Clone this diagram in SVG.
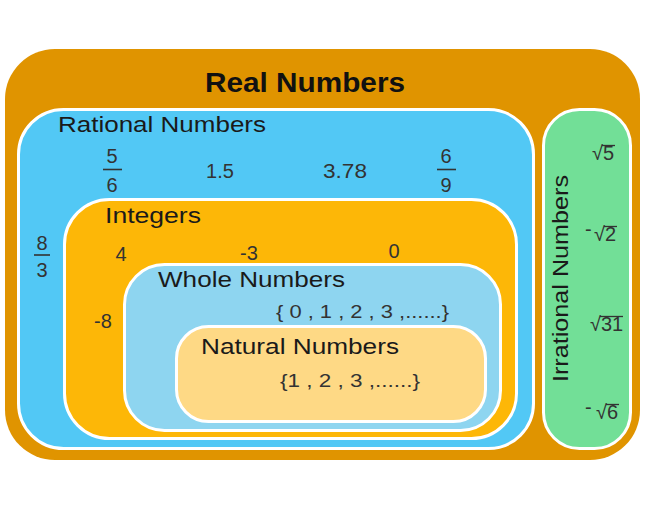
<svg xmlns="http://www.w3.org/2000/svg" width="647" height="524" viewBox="0 0 647 524">
<style>
.box{stroke:#fff;stroke-width:3}
.lbl{font-family:"Liberation Sans",Arial,sans-serif;font-size:22px;fill:#1a1a1a}
.num{font-family:"Liberation Sans",Arial,sans-serif;font-size:20px;fill:#333}
.set{font-family:"Liberation Sans",Arial,sans-serif;font-size:18px;fill:#333}
.bar{stroke:#333;stroke-width:1.6}
.vin{stroke:#333;stroke-width:1.3}
</style>
<rect width="647" height="524" fill="#fff"/>
<g id="real">
<rect x="5" y="49" width="635" height="411" rx="50" fill="#E09400"/>
<text x="305" y="92" text-anchor="middle" font-family="Liberation Sans,Arial,sans-serif" font-weight="bold" font-size="28" fill="#111" textLength="200" lengthAdjust="spacingAndGlyphs">Real Numbers</text>
</g>
<g id="rational">
<rect class="box" x="18.5" y="109.5" width="515" height="339" rx="45" fill="#52C8F5"/>
<text class="lbl" x="58" y="132" textLength="208" lengthAdjust="spacingAndGlyphs">Rational Numbers</text>
<text class="num" x="112" y="163" text-anchor="middle">5</text>
<line class="bar" x1="103" y1="169.5" x2="122" y2="169.5"/>
<text class="num" x="112" y="192" text-anchor="middle">6</text>
<text class="num" x="220" y="178" text-anchor="middle">1.5</text>
<text class="num" x="345" y="178" text-anchor="middle" textLength="44" lengthAdjust="spacingAndGlyphs">3.78</text>
<text class="num" x="446" y="163" text-anchor="middle">6</text>
<line class="bar" x1="437" y1="169.5" x2="456" y2="169.5"/>
<text class="num" x="446" y="192" text-anchor="middle">9</text>
<text class="num" x="42" y="250" text-anchor="middle">8</text>
<line class="bar" x1="34" y1="255" x2="50" y2="255"/>
<text class="num" x="42" y="277" text-anchor="middle">3</text>
</g>
<g id="integers">
<rect class="box" x="64.5" y="199.5" width="452" height="239" rx="45" fill="#FDB707"/>
<text class="lbl" x="105" y="223" textLength="96" lengthAdjust="spacingAndGlyphs">Integers</text>
<text class="num" x="121" y="261" text-anchor="middle">4</text>
<text class="num" x="249" y="260" text-anchor="middle">-3</text>
<text class="num" x="394" y="258" text-anchor="middle">0</text>
<text class="num" x="103" y="328" text-anchor="middle">-8</text>
</g>
<g id="whole">
<rect class="box" x="124.5" y="264.5" width="376" height="166" rx="40" fill="#8ED5F0"/>
<text class="lbl" x="158" y="287" textLength="187" lengthAdjust="spacingAndGlyphs">Whole Numbers</text>
<text class="set" x="276" y="318" textLength="173" lengthAdjust="spacingAndGlyphs">{ 0 , 1 , 2 , 3 ,......}</text>
</g>
<g id="natural">
<rect class="box" x="176.5" y="326.5" width="309" height="95" rx="32" fill="#FED985"/>
<text class="lbl" x="201" y="354" textLength="198" lengthAdjust="spacingAndGlyphs">Natural Numbers</text>
<text class="set" x="280" y="387" textLength="140" lengthAdjust="spacingAndGlyphs">{1 , 2 , 3 ,......}</text>
</g>
<g id="irrational">
<rect class="box" x="543.5" y="109.5" width="87" height="339" rx="36" fill="#72DF97"/>
<text class="lbl" transform="translate(568,382) rotate(-90)" x="0" y="0" textLength="207" lengthAdjust="spacingAndGlyphs">Irrational Numbers</text>
<text class="num" x="592" y="160">√5</text>
<line class="vin" x1="602" y1="145.5" x2="615" y2="145.5"/>
<text class="num" x="585" y="236" font-size="16">-</text>
<text class="num" x="594" y="241">√2</text>
<line class="vin" x1="604" y1="226.5" x2="617" y2="226.5"/>
<text class="num" x="590" y="331">√31</text>
<line class="vin" x1="600" y1="316.5" x2="623" y2="316.5"/>
<text class="num" x="585" y="414" font-size="16">-</text>
<text class="num" x="596" y="419">√6</text>
<line class="vin" x1="606" y1="404.5" x2="619" y2="404.5"/>
</g>
<g id="connectors"></g>
</svg>
